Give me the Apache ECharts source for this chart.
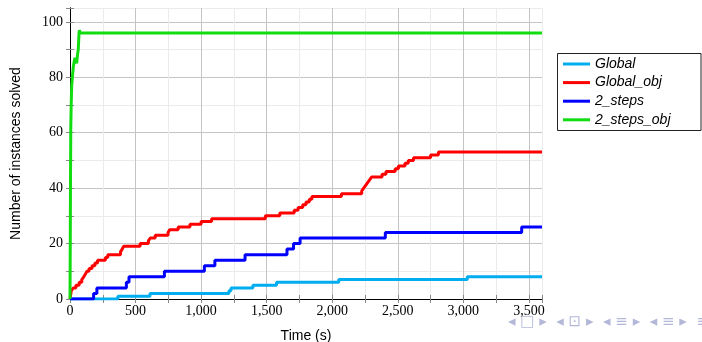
<!DOCTYPE html>
<html>
<head>
<meta charset="utf-8">
<script src="https://cdn.jsdelivr.net/npm/echarts@6/dist/echarts.min.js"></script>
<style>
  html, body { margin: 0; padding: 0; background: #fff; }
  #main { width: 702px; height: 342px; }
</style>
</head>
<body>
<div id="main"></div>
<script>
// [time (s), number of instances solved]
const globalData = [[0, 0], [365, 1], [610, 2], [1212, 3], [1228, 4], [1395, 5], [1575, 6], [2050, 7], [3030, 8], [3600, 8]];
const globalObjData = [[0, 0], [10, 3], [25, 4], [45, 5], [70, 6], [90, 7], [105, 8], [118, 9], [128, 10], [145, 11],
  [168, 12], [190, 13], [210, 14], [270, 15], [288, 16], [385, 17], [398, 18], [410, 19], [535, 20], [598, 21],
  [612, 22], [650, 23], [748, 24], [760, 25], [825, 26], [915, 27], [1000, 28], [1080, 29], [1490, 30], [1600, 31],
  [1710, 32], [1740, 33], [1775, 34], [1800, 35], [1825, 36], [1845, 37], [2070, 38], [2225, 39], [2240, 40],
  [2255, 41], [2270, 42], [2285, 43], [2300, 44], [2380, 45], [2410, 46], [2480, 47], [2505, 48], [2555, 49],
  [2580, 50], [2620, 51], [2750, 52], [2810, 53], [3600, 53]];
const twoStepsData = [[0, 0], [180, 2], [205, 4], [430, 6], [450, 8], [720, 10], [1025, 12], [1105, 14], [1335, 16],
  [1655, 18], [1705, 20], [1755, 22], [2405, 24], [3445, 26], [3600, 26]];
const twoStepsObjData = [[0, 0], [2, 20], [4, 45], [6, 62], [9, 70], [13, 77], [20, 81], [26, 84], [33, 86], [38, 87],
  [45, 86], [51, 85], [57, 88], [63, 90], [69, 96], [72, 97], [78, 96], [3600, 96]];

const seriesNames = ['Global', 'Global_obj', '2_steps', '2_steps_obj'];
const seriesColors = ['#00aeef', '#ff0000', '#0000ff', '#11dd11'];
const xTickValues = [0, 500, 1000, 1500, 2000, 2500, 3000, 3500];
const yTickValues = [0, 20, 40, 60, 80, 100];
const xMax = 3600;
const yMax = 105;

const serif = 'Liberation Serif';
const sans = 'Liberation Sans';

const myChart = echarts.init(document.getElementById('main'));

const dataSets = [globalData, globalObjData, twoStepsData, twoStepsObjData];
const series = [];
for (let i = 0; i < dataSets.length; i++) {
  series.push({
    name: seriesNames[i],
    type: 'line',
    data: dataSets[i],
    step: i === 3 ? false : 'end',
    symbol: 'none',
    color: seriesColors[i],
    lineStyle: { width: 3, color: seriesColors[i] },
    xAxisIndex: 0,
    yAxisIndex: 0,
  });
}

const xStep = xTickValues[1] - xTickValues[0];
const yStep = yTickValues[1] - yTickValues[0];

// top / right axes only draw the frame and its inner ticks
function frameAxis(pos) {
  return {
    type: 'value',
    position: pos,
    min: 0,
    max: pos === 'top' ? xMax : yMax,
    interval: pos === 'top' ? xStep / 2 : yStep / 2,
    axisLine: { show: true, lineStyle: { color: '#000', width: 1 } },
    axisTick: { show: true, inside: true, length: 4, lineStyle: { color: '#888' } },
    axisLabel: { show: false },
    splitLine: { show: false },
  };
}

const option = {
  animation: false,
  grid: { left: 70, right: 160, top: 8, bottom: 43, containLabel: false, outerBoundsMode: 'none' },
  legend: {
    orient: 'vertical',
    left: 563,
    top: 57,
    padding: 0,
    icon: 'rect',
    itemWidth: 27,
    itemHeight: 3,
    itemGap: 4.6,
    data: seriesNames,
    textStyle: { fontFamily: sans, fontStyle: 'italic', fontSize: 14, lineHeight: 14, color: '#000' },
  },
  graphic: [
    {
      type: 'rect',
      shape: { x: 557.5, y: 53.5, width: 143.5, height: 77 },
      style: { fill: 'none', stroke: '#222', lineWidth: 1 },
    },
    {
      type: 'text',
      left: 508,
      top: 315,
      style: { text: '◂ □ ▸  ◂ ⊡ ▸  ◂ ≡ ▸  ◂ ≡ ▸  ≡ ∽', fill: '#b4b8d8', font: '15px "DejaVu Sans"' },
    },
  ],
  xAxis: [
    {
      type: 'value',
      position: 'bottom',
      min: 0,
      max: xMax,
      interval: xStep / 2,
      name: 'Time (s)',
      nameLocation: 'middle',
      nameGap: 30,
      nameTextStyle: { fontFamily: sans, fontSize: 14, color: '#000' },
      axisLine: { show: true, lineStyle: { color: '#000', width: 1 } },
      axisTick: { show: true, inside: true, length: 4, lineStyle: { color: '#888' } },
      axisLabel: {
        margin: 5,
        fontFamily: serif,
        fontSize: 14,
        color: '#000',
        formatter: function (v) { return xTickValues.indexOf(v) >= 0 ? v.toLocaleString('en-US') : ''; },
      },
      splitLine: { show: true, lineStyle: { color: ['#c4c4c4', '#ebebeb'], width: 1 } },
    },
    frameAxis('top'),
  ],
  yAxis: [
    {
      type: 'value',
      position: 'left',
      min: 0,
      max: yMax,
      interval: yStep / 2,
      name: 'Number of instances solved',
      nameLocation: 'middle',
      nameGap: 47,
      nameTextStyle: { fontFamily: sans, fontSize: 14, color: '#000' },
      axisLine: { show: true, lineStyle: { color: '#000', width: 1 } },
      axisTick: { show: true, inside: true, length: 4, lineStyle: { color: '#888' } },
      axisLabel: {
        margin: 7,
        fontFamily: serif,
        fontSize: 14,
        color: '#000',
        formatter: function (v) { return yTickValues.indexOf(v) >= 0 ? String(v) : ''; },
      },
      splitLine: { show: true, lineStyle: { color: ['#c4c4c4', '#ebebeb'], width: 1 } },
    },
    frameAxis('right'),
  ],
  series: series,
};
myChart.setOption(option);
</script>
</body>
</html>
